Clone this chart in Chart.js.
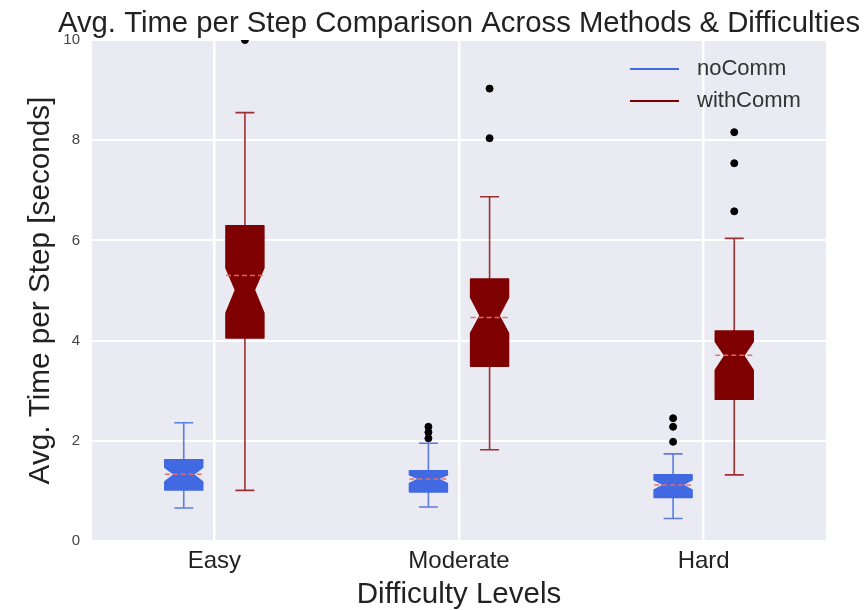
<!DOCTYPE html>
<html>
<head>
<meta charset="utf-8">
<script src="https://cdn.jsdelivr.net/npm/chart.js@4.4.1/dist/chart.umd.min.js"></script>
<style>
  body { margin: 0; background: #fff; }
  canvas { display: block; }
</style>
</head>
<body>
<canvas id="boxChart" width="866" height="610"></canvas>
<script>
// Box plot values (seconds)
const categories = ['Easy', 'Moderate', 'Hard'];
const yTicks = [0, 2, 4, 6, 8, 10];

const noCommWhiskerLow = [0.66, 0.68, 0.45];
const noCommQ1 = [1.02, 0.98, 0.87];
const noCommNotchLow = [1.18, 1.15, 1.02];
const noCommMedian = [1.33, 1.24, 1.12];
const noCommNotchHigh = [1.47, 1.32, 1.22];
const noCommQ3 = [1.62, 1.40, 1.32];
const noCommWhiskerHigh = [2.36, 1.95, 1.74];
const noCommMean = [1.33, 1.24, 1.12];
const noCommOutliers = [[], [2.05, 2.17, 2.28], [1.98, 2.28, 2.45]];

const withCommWhiskerLow = [1.01, 1.82, 1.32];
const withCommQ1 = [4.05, 3.49, 2.83];
const withCommNotchLow = [4.55, 4.15, 3.41];
const withCommMedian = [5.01, 4.50, 3.70];
const withCommNotchHigh = [5.45, 4.86, 3.98];
const withCommQ3 = [6.29, 5.23, 4.19];
const withCommWhiskerHigh = [8.55, 6.87, 6.04];
const withCommMean = [5.30, 4.46, 3.71];
const withCommOutliers = [[10.0], [8.04, 9.03], [6.58, 7.54, 8.16]];

const TITLE = 'Avg. Time per Step Comparison Across Methods & Difficulties';
const FONT = "'Liberation Sans', Arial, sans-serif";
const BOX_WIDTH = 0.155; // in x units
const methods = [
  {
    name: 'noComm', offset: -0.125, fill: '#4169e1', whisker: 'rgba(65,105,225,0.85)',
    lo: noCommWhiskerLow, q1: noCommQ1, nLo: noCommNotchLow, med: noCommMedian,
    nHi: noCommNotchHigh, q3: noCommQ3, hi: noCommWhiskerHigh, mean: noCommMean, out: noCommOutliers
  },
  {
    name: 'withComm', offset: 0.125, fill: '#7f0000', whisker: 'rgba(139,0,0,0.8)',
    lo: withCommWhiskerLow, q1: withCommQ1, nLo: withCommNotchLow, med: withCommMedian,
    nHi: withCommNotchHigh, q3: withCommQ3, hi: withCommWhiskerHigh, mean: withCommMean, out: withCommOutliers
  }
];

function outlierPoints(m) {
  const pts = [];
  m.out.forEach((vals, i) => {
    vals.forEach(v => pts.push({ x: i + 1 + m.offset, y: v }));
  });
  return pts;
}

// plot background
const plotBg = {
  id: 'plotBg',
  beforeDraw(chart) {
    const { ctx, chartArea: a } = chart;
    ctx.save();
    ctx.fillStyle = '#eaeaf2';
    ctx.fillRect(a.left, a.top, a.right - a.left, a.bottom - a.top);
    ctx.restore();
  }
};

// notched boxes, whiskers, caps and mean lines
const boxes = {
  id: 'boxes',
  beforeDatasetsDraw(chart) {
    const { ctx, chartArea: a, scales: { x, y } } = chart;
    ctx.save();
    ctx.beginPath();
    ctx.rect(a.left, a.top, a.right - a.left, a.bottom - a.top);
    ctx.clip();
    methods.forEach(m => {
      categories.forEach((c, i) => {
        const cx = x.getPixelForValue(i + 1 + m.offset);
        const half = x.getPixelForValue(i + 1 + m.offset + BOX_WIDTH / 2) - cx;
        const L = cx - half, R = cx + half;
        const nL = cx - half / 2, nR = cx + half / 2;
        const py = v => y.getPixelForValue(v);

        // whiskers
        ctx.strokeStyle = m.whisker;
        ctx.lineWidth = 1.6;
        ctx.beginPath();
        ctx.moveTo(cx, py(m.q3[i])); ctx.lineTo(cx, py(m.hi[i]));
        ctx.moveTo(cx, py(m.q1[i])); ctx.lineTo(cx, py(m.lo[i]));
        ctx.moveTo(cx - half / 2, py(m.hi[i])); ctx.lineTo(cx + half / 2, py(m.hi[i]));
        ctx.moveTo(cx - half / 2, py(m.lo[i])); ctx.lineTo(cx + half / 2, py(m.lo[i]));
        ctx.stroke();

        // notched box
        ctx.beginPath();
        ctx.moveTo(L, py(m.q1[i]));
        ctx.lineTo(L, py(m.nLo[i]));
        ctx.lineTo(nL, py(m.med[i]));
        ctx.lineTo(L, py(m.nHi[i]));
        ctx.lineTo(L, py(m.q3[i]));
        ctx.lineTo(R, py(m.q3[i]));
        ctx.lineTo(R, py(m.nHi[i]));
        ctx.lineTo(nR, py(m.med[i]));
        ctx.lineTo(R, py(m.nLo[i]));
        ctx.lineTo(R, py(m.q1[i]));
        ctx.closePath();
        ctx.fillStyle = m.fill;
        ctx.fill();
        ctx.strokeStyle = m.fill;
        ctx.lineWidth = 1.5;
        ctx.lineJoin = 'round';
        ctx.stroke();

        // mean line
        ctx.save();
        ctx.strokeStyle = 'rgba(236,104,104,0.95)';
        ctx.lineWidth = 1.5;
        ctx.setLineDash([5, 3]);
        ctx.beginPath();
        ctx.moveTo(L, py(m.mean[i]));
        ctx.lineTo(R, py(m.mean[i]));
        ctx.stroke();
        ctx.restore();
      });
    });
    ctx.restore();
  }
};

// title centred over the axes, legend inside the plot at top right
const decorations = {
  id: 'decorations',
  afterDraw(chart) {
    const { ctx, chartArea: a } = chart;
    ctx.save();
    ctx.fillStyle = '#222';
    ctx.font = '29.3px ' + FONT;
    ctx.textAlign = 'center';
    ctx.textBaseline = 'alphabetic';
    ctx.fillText(TITLE, (a.left + a.right) / 2, 31.5);

    ctx.font = '22px ' + FONT;
    ctx.textAlign = 'left';
    ctx.textBaseline = 'middle';
    methods.forEach((m, k) => {
      const yy = a.top + 29 + k * 32;
      const x0 = a.right - 196;
      ctx.strokeStyle = m.fill;
      ctx.lineWidth = 2.2;
      ctx.beginPath();
      ctx.moveTo(x0, yy);
      ctx.lineTo(x0 + 49, yy);
      ctx.stroke();
      ctx.fillStyle = '#333';
      ctx.fillText(m.name, x0 + 67, yy);
    });
    ctx.restore();
  }
};

const gridOpts = { color: '#ffffff', lineWidth: 2.5, drawTicks: false };

new Chart(document.getElementById('boxChart').getContext('2d'), {
  type: 'scatter',
  data: {
    datasets: methods.map(m => ({
      label: m.name,
      data: outlierPoints(m),
      backgroundColor: '#000',
      borderColor: '#000',
      pointRadius: 3.5,
      clip: 0
    }))
  },
  options: {
    responsive: false,
    animation: false,
    layout: { padding: { left: 0, right: 40, top: 40, bottom: 0 } },
    plugins: {
      legend: { display: false },
      tooltip: { enabled: false },
      title: { display: false }
    },
    scales: {
      x: {
        type: 'linear',
        min: 0.5,
        max: 3.5,
        afterBuildTicks: s => { s.ticks = categories.map((c, i) => ({ value: i + 1 })); },
        afterFit: s => { s.height = 69; },
        ticks: {
          callback: v => categories[v - 1] || '',
          color: '#222',
          font: { family: FONT, size: 24 },
          padding: 6,
          maxRotation: 0
        },
        grid: gridOpts,
        border: { display: false },
        title: {
          display: true,
          text: 'Difficulty Levels',
          color: '#222',
          font: { family: FONT, size: 29.5 },
          padding: { top: 0, bottom: -3 }
        }
      },
      y: {
        min: 0,
        max: 10,
        afterBuildTicks: s => { s.ticks = yTicks.map(v => ({ value: v })); },
        afterFit: s => { s.width = 92; },
        ticks: {
          color: '#444',
          font: { family: FONT, size: 15 },
          padding: 12
        },
        grid: { color: '#ffffff', lineWidth: 2, drawTicks: false },
        border: { display: false },
        title: {
          display: true,
          text: 'Avg. Time per Step [seconds]',
          color: '#222',
          font: { family: FONT, size: 29.7 },
          padding: { top: 23, bottom: 0 }
        }
      }
    }
  },
  plugins: [plotBg, boxes, decorations]
});
</script>
</body>
</html>
